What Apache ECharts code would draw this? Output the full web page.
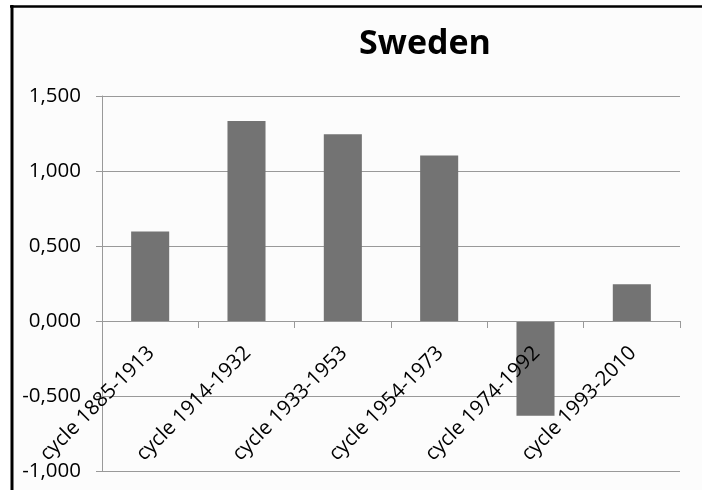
<!DOCTYPE html>
<html>
<head>
<meta charset="utf-8">
<script src="https://cdn.jsdelivr.net/npm/echarts@6/dist/echarts.min.js"></script>
<style>
html,body{margin:0;padding:0;background:#fff;}
#c{width:702px;height:490px;}
</style>
</head>
<body>
<div id="c"></div>
<script>
const titleText = 'Sweden';
const categories = ['cycle 1885-1913', 'cycle 1914-1932', 'cycle 1933-1953', 'cycle 1954-1973', 'cycle 1974-1992', 'cycle 1993-2010'];
const values = [0.597, 1.334, 1.245, 1.104, -0.632, 0.245];
const yMin = -1, yMax = 1.5, yStep = 0.5;

const gridTop = 96, gridBottom = 19, H = 490;
const plotH = H - gridTop - gridBottom;
const zeroOffset = -plotH * (0 - yMin) / (yMax - yMin);

const chart = echarts.init(document.getElementById('c'), null, {renderer: 'canvas'});
const font = '"Open Sans", sans-serif';
chart.setOption({
  backgroundColor: '#fcfcfc',
  animation: false,
  title: {
    text: titleText,
    left: 420,
    top: 22,
    textAlign: 'center',
    textStyle: {fontFamily: font, fontSize: 34, fontWeight: 'bold', color: '#000'}
  },
  grid: {left: 102, right: 22, top: gridTop, bottom: gridBottom, containLabel: false, outerBoundsMode: 'none'},
  xAxis: {
    type: 'category',
    data: categories,
    z: 5,
    offset: zeroOffset,
    axisLine: {onZero: false, lineStyle: {color: '#999', width: 1}},
    axisTick: {show: true, length: 7, alignWithLabel: false, lineStyle: {color: '#999'}},
    axisLabel: {
      interval: 0, rotate: 45, margin: 15,
      verticalAlign: 'top',
      padding: [0, 9, 0, 0],
      fontFamily: font, fontSize: 20.5, color: '#000'
    },
    splitLine: {show: false}
  },
  yAxis: {
    type: 'value',
    min: yMin, max: yMax, interval: yStep,
    axisLine: {show: true, lineStyle: {color: '#999'}},
    axisTick: {show: true, length: 6, lineStyle: {color: '#999'}},
    axisLabel: {
      margin: 21,
      fontFamily: font, fontSize: 20.5, color: '#000',
      formatter: v => v.toFixed(3).replace('.', ',')
    },
    splitLine: {show: true, lineStyle: {color: '#999', width: 1}}
  },
  series: [{
    type: 'bar',
    data: values,
    barWidth: '39.5%',
    itemStyle: {color: '#737373'}
  }],
  graphic: [
    {type: 'line', shape: {x1: 10, y1: 6.5, x2: 702, y2: 6.5}, style: {stroke: '#000', lineWidth: 2.5}, z: 100},
    {type: 'line', shape: {x1: 12, y1: 5, x2: 12, y2: 490}, style: {stroke: '#000', lineWidth: 3}, z: 100},
    {type: 'rect', shape: {x: 0, y: 0, width: 10.5, height: 490}, style: {fill: '#fff'}, z: 99},
    {type: 'rect', shape: {x: 0, y: 0, width: 702, height: 5.2}, style: {fill: '#fff'}, z: 99}
  ]
});
</script>
</body>
</html>
